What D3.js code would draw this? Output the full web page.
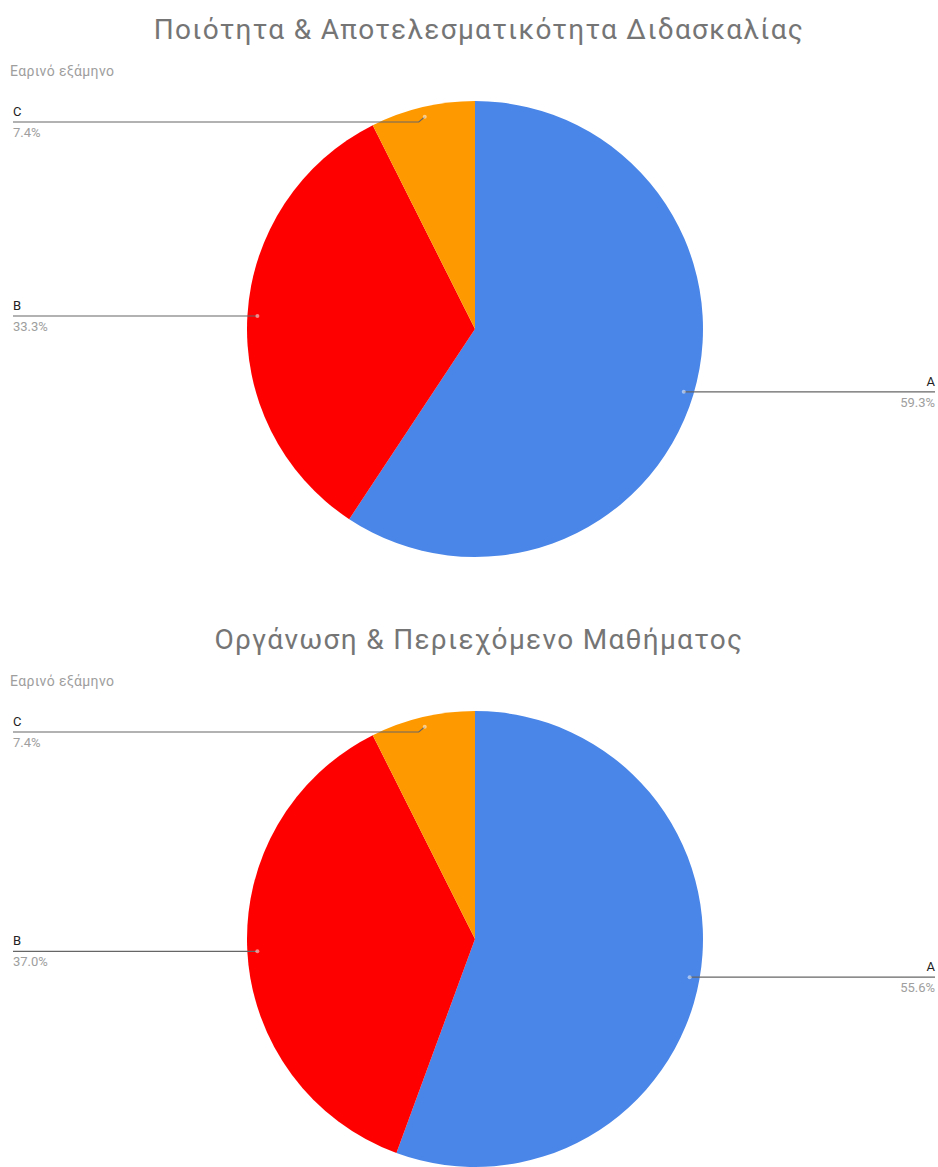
<!DOCTYPE html>
<html>
<head>
<meta charset="utf-8">
<script src="https://cdn.jsdelivr.net/npm/d3@7"></script>
<style>
  body { margin: 0; background: #fff; }
  svg { display: block; font-family: Roboto, "Noto Sans", sans-serif; }
</style>
</head>
<body>
<svg id="chart"></svg>
<script>
const width = 938;
const height = 1167;

// data
const titles = ["Ποιότητα & Αποτελεσματικότητα Διδασκαλίας", "Οργάνωση & Περιεχόμενο Μαθήματος"];
const subtitle = "Εαρινό εξάμηνο";
const categories = ["A", "B", "C"];
const valuesTop = [59.3, 33.3, 7.4];
const valuesBottom = [55.6, 37.0, 7.4];
const colors = ["#4a86e8", "#ff0000", "#ff9900"];

const svg = d3.select("#chart")
    .attr("width", width)
    .attr("height", height);

const color = d3.scaleOrdinal().domain(categories).range(colors);

const pie = d3.pie()
    .sort(null)
    .value(d => d.value);

function drawPie(values, title, offsetY) {
    const r = 228;
    const cx = 475, cy = offsetY + 329;
    const g = svg.append("g");

    g.append("text")
        .attr("x", 479).attr("y", offsetY + 39)
        .attr("text-anchor", "middle")
        .attr("font-size", 28)
        .attr("letter-spacing", 1.3)
        .attr("fill", "#757575")
        .text(title);

    g.append("text")
        .attr("x", 10).attr("y", offsetY + 76)
        .attr("font-size", 14)
        .attr("letter-spacing", 0.4)
        .attr("fill", "#9e9e9e")
        .text(subtitle);

    const data = categories.map((c, i) => ({ cat: c, value: values[i] }));
    const arcs = pie(data);
    const arc = d3.arc().innerRadius(0).outerRadius(r);
    const pointArc = d3.arc().innerRadius(r - 10).outerRadius(r - 10);

    const slices = g.append("g").attr("transform", `translate(${cx},${cy})`);
    slices.selectAll("path")
        .data(arcs)
        .enter()
        .append("path")
        .attr("d", arc)
        .attr("fill", d => color(d.data.cat));

    // labels with leader lines
    const labels = g.append("g");
    arcs.forEach(d => {
        const [px, py] = pointArc.centroid(d);
        const x = cx + px, y = cy + py;
        const right = x > cx;
        const lineY = Math.max(y, cy - r + 21);
        const xEnd = right ? 935 : 13;
        labels.append("polyline")
            .attr("points", [[xEnd, lineY], [x + (right ? 6 : -6), lineY], [x, y]].map(p => p.join(",")).join(" "))
            .attr("fill", "none")
            .attr("stroke", "#666")
            .attr("stroke-width", 1.2);
        labels.append("circle")
            .attr("cx", x).attr("cy", y).attr("r", 2)
            .attr("fill", "#fff").attr("opacity", 0.5);
        labels.append("text")
            .attr("x", xEnd).attr("y", lineY - 6)
            .attr("text-anchor", right ? "end" : "start")
            .attr("font-size", 13)
            .attr("fill", "#222")
            .text(d.data.cat);
        labels.append("text")
            .attr("x", xEnd).attr("y", lineY + 15)
            .attr("text-anchor", right ? "end" : "start")
            .attr("font-size", 13)
            .attr("fill", "#9e9e9e")
            .text(d.data.value.toFixed(1) + "%");
    });
}

drawPie(valuesTop, titles[0], 0);
drawPie(valuesBottom, titles[1], 610);
</script>
</body>
</html>
